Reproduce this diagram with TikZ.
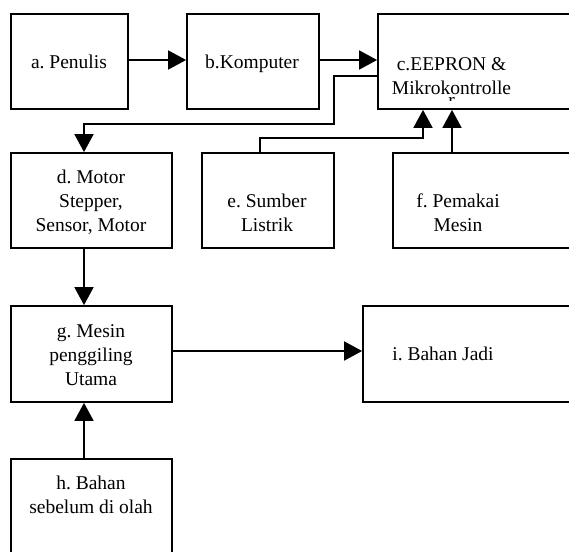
\documentclass[tikz,border=0pt]{standalone}
\usepackage{fontspec}
\setmainfont{Liberation Serif}
\usetikzlibrary{arrows.meta,fit}
\frenchspacing
\begin{document}
\begin{tikzpicture}[x=1pt,y=-1pt,
  box/.style={draw,line width=1.8pt,inner sep=0pt},
  lbl/.style={font=\fontsize{19.5}{24}\selectfont,align=center,inner sep=0pt,anchor=base},
  arr/.style={line width=1.8pt,-{Triangle[length=18pt,width=19pt]}}]
\useasboundingbox (0,0) rectangle (569,551);
\coordinate (a1) at (11,14); \coordinate (a2) at (128,109);
\coordinate (b1) at (187,14); \coordinate (b2) at (319,109);
\coordinate (c1) at (378,14); \coordinate (c2) at (600,109);
\coordinate (d1) at (11,153); \coordinate (d2) at (172,248);
\coordinate (e1) at (202,153); \coordinate (e2) at (334,248);
\coordinate (f1) at (393,153); \coordinate (f2) at (600,248);
\coordinate (g1) at (11,306); \coordinate (g2) at (172,402);
\coordinate (i1) at (363,306); \coordinate (i2) at (600,402);
\coordinate (h1) at (11,459); \coordinate (h2) at (172,600);
\node[box,fit=(a1)(a2)] (a) {};
\node[box,fit=(b1)(b2)] (b) {};
\node[box,fit=(c1)(c2)] (c) {};
\node[box,fit=(d1)(d2)] (d) {};
\node[box,fit=(e1)(e2)] (e) {};
\node[box,fit=(f1)(f2)] (f) {};
\node[box,fit=(g1)(g2)] (g) {};
\node[box,fit=(i1)(i2)] (i) {};
\node[box,fit=(h1)(h2)] (h) {};
\node[lbl] (ta) at (69,68) {a. Penulis};
\node[lbl] (tb) at (252,68) {b.Komputer};
\begin{scope}
\clip (380,16) rectangle (569,100.5);
\node[lbl] (tc) at (451.5,106.5) {c.EEPRON \&\\Mikrokontrolle\\[-12pt]r};
\end{scope}
\node[lbl] (td) at (91,231) {d. Motor\\Stepper,\\Sensor, Motor};
\node[lbl] (te) at (267,231) {e. Sumber\\Listrik};
\node[lbl] (tf) at (458,231) {f. Pemakai\\Mesin};
\node[lbl] (tg) at (91,385) {g. Mesin\\penggiling\\Utama};
\node[lbl] (ti) at (443,360) {i. Bahan Jadi};
\node[lbl] (th) at (91,513) {h. Bahan\\sebelum di olah};
\draw[arr] (a.east |- 0,60) -- (b.west |- 0,60);
\draw[arr] (b.east |- 0,60) -- (c.west |- 0,60);
\draw[arr] (c.west |- 0,76) -| (334,124) -| (84,0 |- d.north);
\draw[arr] (260,0 |- e.north) -- (260,138) -| (423,0 |- c.south);
\draw[arr] (452,0 |- f.north) -- (452,0 |- c.south);
\draw[arr] (84,0 |- d.south) -- (84,0 |- g.north);
\draw[arr] (g.east |- 0,351) -- (i.west |- 0,351);
\draw[arr] (84,0 |- h.north) -- (84,0 |- g.south);
\end{tikzpicture}
\end{document}
